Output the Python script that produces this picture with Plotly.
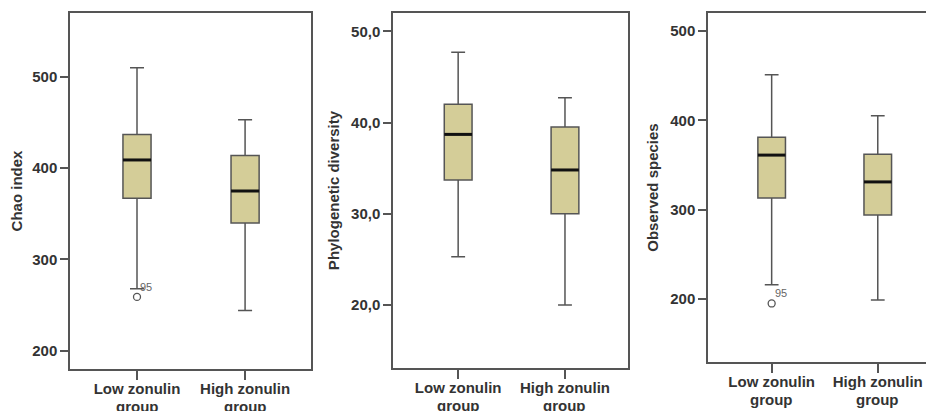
import plotly.graph_objects as go

# ---- data ----
group_line1 = ["Low zonulin", "High zonulin"]
group_line2 = ["group", "group"]
positions = [0, 1]

chao_lower = [268, 244]
chao_q1 = [367, 340]
chao_median = [409, 375]
chao_q3 = [437, 414]
chao_upper = [510, 453]
chao_outlier_y = [259]
chao_outlier_grp = [0]
chao_outlier_id = ["95"]

pd_lower = [25.3, 20.0]
pd_q1 = [33.7, 30.0]
pd_median = [38.7, 34.8]
pd_q3 = [42.0, 39.5]
pd_upper = [47.7, 42.7]

obs_lower = [216, 199]
obs_q1 = [313, 294]
obs_median = [361, 331]
obs_q3 = [381, 362]
obs_upper = [451, 405]
obs_outlier_y = [195]
obs_outlier_grp = [0]
obs_outlier_id = ["95"]

chao_ticks = [200, 300, 400, 500]
pd_ticks = [20, 30, 40, 50]
pd_ticktext = ["20,0", "30,0", "40,0", "50,0"]
obs_ticks = [200, 300, 400, 500]

# ---- style ----
FILL = "#d4cd98"
EDGE = "#555555"
TXT = "#333333"
FONT = "Liberation Sans"
FS = 15
BOXW = 0.26

# page body has an 8px margin: lay out in figure pixels = window pixels - 8
OFF = 8
W, H = 934 - OFF, 411 - OFF


def xd(a, b):
    return [max(0, (a - OFF) / W), min(1, (b - OFF) / W)]


def yd(top, bottom):
    return [(H - (bottom - OFF)) / H, (H - (top - OFF)) / H]


fig = go.Figure()

panels = [
    dict(lower=chao_lower, q1=chao_q1, med=chao_median, q3=chao_q3, upper=chao_upper,
         oy=chao_outlier_y, og=chao_outlier_grp, oid=chao_outlier_id),
    dict(lower=pd_lower, q1=pd_q1, med=pd_median, q3=pd_q3, upper=pd_upper,
         oy=[], og=[], oid=[]),
    dict(lower=obs_lower, q1=obs_q1, med=obs_median, q3=obs_q3, upper=obs_upper,
         oy=obs_outlier_y, og=obs_outlier_grp, oid=obs_outlier_id),
]

for i, p in enumerate(panels):
    ax = "" if i == 0 else str(i + 1)
    fig.add_trace(go.Box(
        x=positions, q1=p["q1"], median=p["med"], q3=p["q3"],
        lowerfence=p["lower"], upperfence=p["upper"],
        width=BOXW, whiskerwidth=0.5, boxpoints=False,
        fillcolor=FILL, line=dict(color=EDGE, width=1.5),
        xaxis="x" + ax, yaxis="y" + ax, showlegend=False, hoverinfo="skip",
    ))
    mx, my = [], []
    for c, m in zip(positions, p["med"]):
        mx += [c - BOXW / 2, c + BOXW / 2, None]
        my += [m, m, None]
    fig.add_trace(go.Scatter(
        x=mx, y=my, mode="lines", line=dict(color="#111111", width=3),
        xaxis="x" + ax, yaxis="y" + ax, showlegend=False, hoverinfo="skip",
    ))
    if p["oy"]:
        fig.add_trace(go.Scatter(
            x=[positions[g] for g in p["og"]], y=p["oy"], mode="markers",
            marker=dict(symbol="circle-open", size=7, color=EDGE, line=dict(width=1.3)),
            xaxis="x" + ax, yaxis="y" + ax, showlegend=False, hoverinfo="skip",
        ))
        for g, yv, lab in zip(p["og"], p["oy"], p["oid"]):
            fig.add_annotation(x=positions[g], y=yv, xref="x" + ax, yref="y" + ax,
                               text=lab, showarrow=False, xshift=9, yshift=10,
                               font=dict(family=FONT, size=11, color="#666666"))
    # second line of the category labels
    for c, t in zip(positions, group_line2):
        fig.add_annotation(x=c, y=0, xref="x" + ax, yref="y" + ax + " domain",
                           text=t, showarrow=False, yanchor="middle", yshift=-37,
                           font=dict(family=FONT, size=FS, color=TXT, weight="bold"))

xaxis_common = dict(
    tickvals=positions, ticktext=group_line1, ticks="outside", ticklen=9, tickwidth=1.5,
    tickcolor=EDGE, showline=True, linecolor=EDGE, linewidth=1.5, showgrid=False,
    zeroline=False, ticklabelstandoff=-4,
    tickfont=dict(family=FONT, size=FS, color=TXT, weight="bold"),
)
yaxis_common = dict(
    ticks="outside", ticklen=8, tickwidth=1.5, tickcolor=EDGE, showline=True,
    linecolor=EDGE, linewidth=1.5, showgrid=False, zeroline=False,
    tickfont=dict(family=FONT, size=FS, color=TXT, weight="bold"),
    title_font=dict(family=FONT, size=FS, color=TXT, weight="bold"), title_standoff=8,
)

fig.update_layout(
    width=W, height=H, margin=dict(l=0, r=0, t=0, b=0),
    paper_bgcolor="white", plot_bgcolor="white",
    xaxis=dict(domain=xd(70, 311), range=[-0.62, 1.61], mirror=True, anchor="y", **xaxis_common),
    yaxis=dict(domain=yd(13, 369), range=[180, 570], tickvals=chao_ticks,
               mirror=True, anchor="x", title_text="Chao index", **yaxis_common),
    xaxis2=dict(domain=xd(393, 628), range=[-0.61, 1.59], mirror=True, anchor="y2", **xaxis_common),
    yaxis2=dict(domain=yd(13, 368), range=[13.1, 52.0], tickvals=pd_ticks,
                ticktext=pd_ticktext, mirror=True, anchor="x2", title_text="Phylogenetic diversity",
                **yaxis_common),
    xaxis3=dict(domain=xd(708, 934), range=[-0.60, 1.53], mirror=True, anchor="y3", **xaxis_common),
    yaxis3=dict(domain=yd(13, 362), range=[129.5, 520], tickvals=obs_ticks,
                mirror=False, anchor="x3", title_text="Observed species", **yaxis_common),
)

fig.write_html("out.html")
